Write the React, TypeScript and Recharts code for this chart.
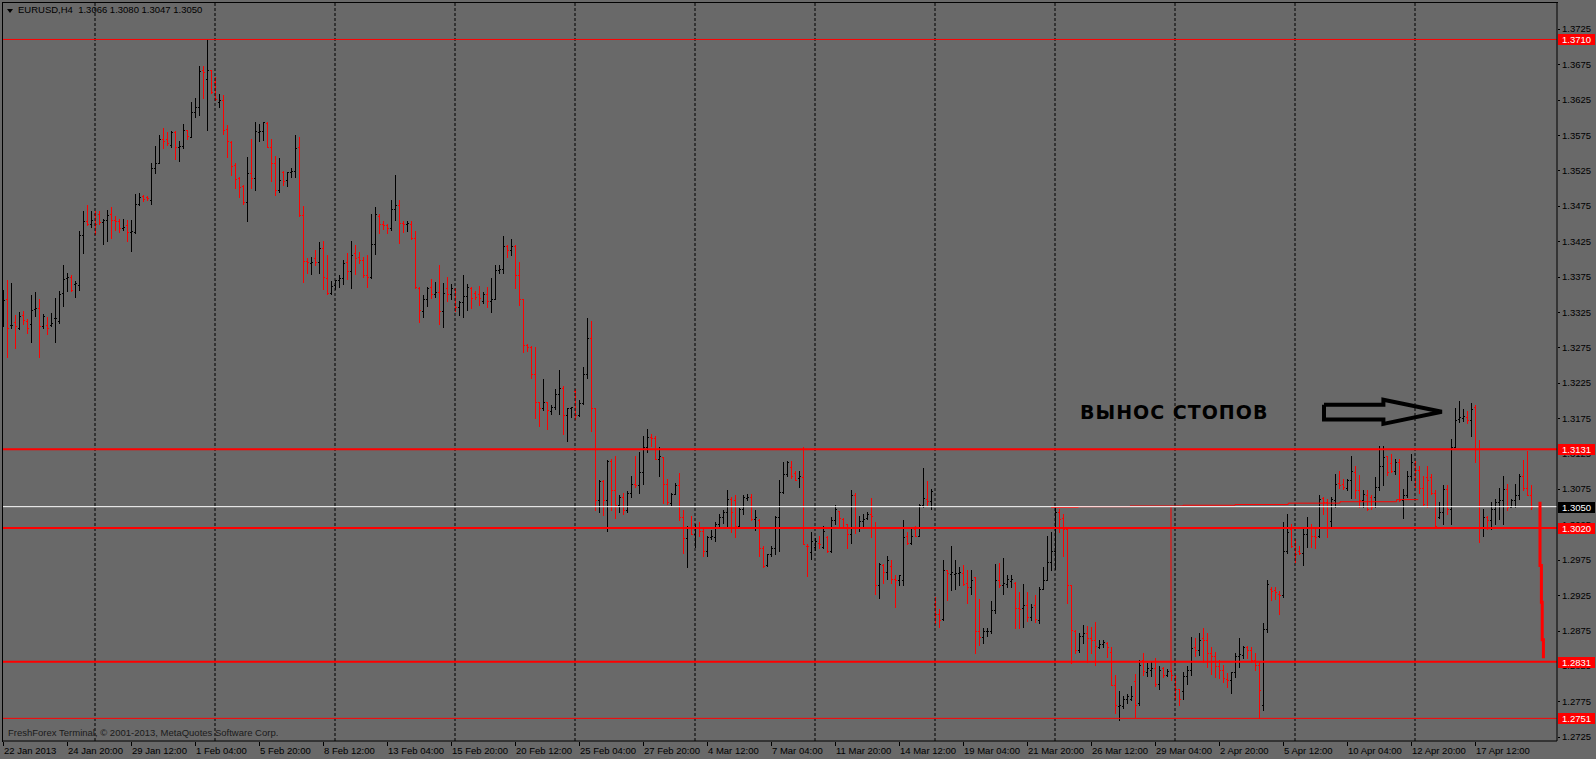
import React from "react";
import { Bar, ComposedChart, Line, ReferenceLine, XAxis, YAxis } from "recharts";

const CHART_W = 1596;
const CHART_H = 759;
const BG = "#696969";
const BULL = "#000000";
const BEAR = "#ff0000";
const FONT = "'Liberation Sans', Arial, sans-serif";

// EURUSD H4 bars, [open, high, low, close] in pips above 1.0000 (3066 = 1.3066)
const week0 = [
  [3326, 3356, 3305, 3342], [3343, 3370, 3262, 3302], [3306, 3366, 3302, 3307], [3311, 3321, 3274, 3305], [3302, 3325, 3301, 3319], [3321, 3327, 3308, 3314],
  [3312, 3315, 3295, 3302], [3308, 3349, 3283, 3328], [3329, 3353, 3320, 3331], [3331, 3343, 3261, 3305], [3305, 3322, 3303, 3319], [3306, 3318, 3294, 3303],
  [3307, 3323, 3305, 3309], [3316, 3345, 3283, 3317], [3312, 3355, 3310, 3350], [3352, 3391, 3334, 3371], [3373, 3380, 3354, 3374], [3374, 3377, 3355, 3356],
  [3364, 3369, 3346, 3366], [3363, 3439, 3356, 3434], [3434, 3467, 3408, 3453], [3453, 3476, 3448, 3449], [3449, 3468, 3445, 3455],
];
const week1 = [
  [3463, 3467, 3435, 3450], [3464, 3467, 3449, 3452], [3452, 3457, 3421, 3455], [3455, 3469, 3425, 3462], [3463, 3474, 3429, 3455], [3455, 3460, 3441, 3453],
  [3453, 3457, 3438, 3444], [3444, 3457, 3441, 3445], [3448, 3455, 3425, 3438], [3438, 3455, 3411, 3439], [3438, 3492, 3437, 3477], [3478, 3493, 3476, 3488],
  [3489, 3490, 3482, 3485], [3487, 3489, 3483, 3486], [3483, 3535, 3478, 3529], [3528, 3560, 3521, 3535], [3536, 3575, 3535, 3570], [3570, 3585, 3556, 3567],
  [3569, 3579, 3561, 3564], [3561, 3580, 3558, 3579], [3579, 3580, 3541, 3558], [3558, 3567, 3538, 3560], [3560, 3590, 3556, 3582], [3582, 3582, 3569, 3574],
  [3572, 3621, 3572, 3607], [3607, 3628, 3600, 3614], [3614, 3672, 3603, 3666], [3667, 3672, 3628, 3664], [3654, 3710, 3582, 3667], [3667, 3667, 3635, 3636],
];
const week2 = [
  [3650, 3657, 3624, 3626], [3621, 3633, 3614, 3624], [3624, 3631, 3576, 3582], [3583, 3589, 3544, 3567], [3565, 3567, 3519, 3531], [3532, 3535, 3500, 3513],
  [3514, 3516, 3488, 3502], [3503, 3504, 3478, 3481], [3480, 3544, 3454, 3521], [3521, 3569, 3500, 3514], [3514, 3594, 3498, 3580], [3579, 3591, 3567, 3580],
  [3580, 3593, 3568, 3593], [3592, 3593, 3558, 3558], [3558, 3570, 3510, 3535], [3536, 3546, 3490, 3497], [3497, 3542, 3495, 3511], [3523, 3524, 3505, 3510],
  [3511, 3523, 3503, 3523], [3523, 3529, 3516, 3524], [3524, 3575, 3516, 3557], [3558, 3572, 3460, 3462], [3462, 3475, 3367, 3397], [3397, 3401, 3380, 3396],
  [3394, 3403, 3378, 3396], [3401, 3413, 3391, 3396], [3396, 3424, 3380, 3415], [3415, 3425, 3357, 3374], [3373, 3405, 3351, 3352], [3352, 3369, 3351, 3362],
];
const week3 = [
  [3363, 3370, 3358, 3370], [3370, 3377, 3361, 3373], [3373, 3399, 3365, 3394], [3396, 3409, 3372, 3383], [3383, 3425, 3359, 3406], [3408, 3420, 3378, 3401],
  [3402, 3410, 3394, 3399], [3399, 3403, 3375, 3377], [3377, 3405, 3360, 3375], [3374, 3463, 3373, 3421], [3421, 3474, 3407, 3463], [3461, 3463, 3436, 3449],
  [3450, 3453, 3442, 3448], [3448, 3449, 3436, 3443], [3443, 3483, 3441, 3470], [3471, 3518, 3455, 3476], [3476, 3483, 3422, 3451], [3451, 3453, 3438, 3450],
  [3450, 3453, 3439, 3451], [3450, 3453, 3428, 3430], [3430, 3439, 3359, 3360], [3359, 3360, 3311, 3328], [3327, 3349, 3318, 3343], [3343, 3360, 3333, 3359],
  [3360, 3372, 3345, 3350], [3350, 3367, 3346, 3353], [3353, 3391, 3308, 3326], [3326, 3366, 3304, 3352], [3359, 3374, 3340, 3351], [3351, 3365, 3343, 3359],
];
const week4 = [
  [3358, 3359, 3327, 3332], [3332, 3340, 3321, 3339], [3339, 3377, 3318, 3347], [3347, 3364, 3328, 3360], [3359, 3361, 3330, 3345], [3352, 3354, 3343, 3346],
  [3350, 3362, 3335, 3345], [3341, 3353, 3338, 3350], [3350, 3361, 3332, 3340], [3340, 3373, 3325, 3344], [3344, 3392, 3343, 3385], [3385, 3392, 3380, 3386],
  [3386, 3432, 3380, 3418], [3418, 3419, 3402, 3412], [3412, 3428, 3405, 3418], [3418, 3419, 3359, 3377], [3377, 3396, 3335, 3343], [3343, 3343, 3268, 3279],
  [3279, 3280, 3270, 3275], [3275, 3277, 3232, 3238], [3238, 3276, 3175, 3198], [3198, 3198, 3164, 3190], [3190, 3230, 3186, 3198], [3198, 3198, 3160, 3186],
  [3185, 3194, 3181, 3191], [3191, 3216, 3188, 3209], [3209, 3243, 3181, 3217], [3217, 3221, 3153, 3180], [3180, 3190, 3143, 3189], [3189, 3191, 3176, 3191],
];
const week5 = [
  [3213, 3216, 3174, 3180], [3180, 3200, 3178, 3197], [3197, 3247, 3195, 3238], [3238, 3317, 3232, 3288], [3288, 3312, 3157, 3189], [3189, 3189, 3046, 3060],
  [3060, 3087, 3042, 3086], [3086, 3088, 3038, 3060], [3060, 3116, 3016, 3115], [3115, 3117, 3045, 3073], [3073, 3121, 3034, 3052], [3052, 3066, 3042, 3063],
  [3063, 3069, 3040, 3045], [3045, 3072, 3042, 3069], [3069, 3094, 3063, 3082], [3082, 3121, 3078, 3080], [3080, 3127, 3070, 3099], [3099, 3150, 3082, 3134],
  [3134, 3160, 3127, 3149], [3149, 3153, 3136, 3147], [3147, 3150, 3117, 3117], [3117, 3134, 3094, 3122], [3120, 3120, 3055, 3082], [3082, 3089, 3054, 3056],
  [3055, 3070, 3052, 3068], [3068, 3083, 3068, 3081], [3081, 3098, 3031, 3036], [3036, 3046, 2984, 3006], [3006, 3023, 2965, 3021], [3021, 3037, 3011, 3012],
];
const week6 = [
  [3012, 3026, 2993, 3020], [3020, 3028, 3009, 3016], [3016, 3019, 2981, 2988], [2988, 3009, 2981, 3007], [3007, 3017, 3005, 3008], [3007, 3028, 3002, 3026],
  [3026, 3040, 3023, 3035], [3035, 3045, 3027, 3042], [3042, 3073, 3023, 3061], [3061, 3063, 3014, 3042], [3059, 3066, 3007, 3023], [3023, 3048, 3022, 3047],
  [3047, 3066, 3040, 3063], [3062, 3068, 3059, 3063], [3063, 3068, 3031, 3033], [3033, 3045, 3017, 3035], [3031, 3033, 2981, 2991], [2991, 2995, 2965, 2966],
  [2967, 2983, 2966, 2983], [2983, 2995, 2981, 2992], [2992, 3037, 2983, 3036], [3036, 3088, 2988, 3071], [3071, 3113, 3069, 3096], [3096, 3115, 3094, 3113],
  [3106, 3114, 3090, 3094], [3098, 3100, 3087, 3088], [3090, 3100, 3078, 3094], [3092, 3134, 2997, 2997], [2995, 2997, 2952, 2994], [2986, 3014, 2976, 3002],
];
const week7 = [
  [2993, 3006, 2989, 3002], [2998, 3008, 2991, 2997], [2993, 3023, 2991, 3016], [3007, 3008, 2986, 2987], [2987, 3035, 2986, 3031], [3031, 3052, 3025, 3047],
  [3044, 3044, 3020, 3034], [3033, 3034, 3021, 3022], [3025, 3026, 2991, 3011], [3011, 3073, 2998, 3066], [3066, 3070, 3013, 3021], [3021, 3037, 3016, 3030],
  [3030, 3039, 3021, 3033], [3034, 3042, 3033, 3039], [3039, 3062, 3007, 3037], [3022, 3028, 2926, 2939], [2939, 2970, 2921, 2969], [2968, 2969, 2942, 2958],
  [2958, 2980, 2948, 2974], [2966, 2975, 2942, 2948], [2948, 2953, 2908, 2947], [2947, 2954, 2939, 2953], [2946, 3031, 2939, 3007], [3008, 3014, 2997, 2998],
  [2999, 3019, 2997, 3009], [3019, 3023, 3008, 3009], [3009, 3054, 3008, 3052], [3052, 3105, 3050, 3062], [3061, 3086, 3052, 3058], [3058, 3075, 3047, 3072],
];
const week8 = [
  [2913, 2922, 2886, 2899], [2898, 2906, 2880, 2890], [2891, 2974, 2890, 2961], [2960, 2961, 2918, 2956], [2955, 2994, 2932, 2958], [2955, 2974, 2934, 2957],
  [2957, 2965, 2939, 2958], [2956, 2968, 2940, 2941], [2942, 2960, 2914, 2937], [2937, 2960, 2927, 2947], [2950, 2951, 2843, 2875], [2875, 2920, 2854, 2866],
  [2866, 2878, 2858, 2875], [2874, 2878, 2867, 2875], [2875, 2917, 2872, 2904], [2904, 2969, 2900, 2946], [2946, 2970, 2937, 2939], [2939, 2978, 2927, 2942],
  [2941, 2954, 2937, 2948], [2945, 2953, 2937, 2948], [2942, 2944, 2878, 2907], [2907, 2929, 2878, 2906], [2907, 2941, 2880, 2911], [2911, 2929, 2889, 2894],
  [2894, 2912, 2890, 2908], [2911, 2925, 2887, 2892], [2890, 2937, 2886, 2934], [2934, 2965, 2934, 2946], [2947, 3009, 2946, 2972], [2972, 3014, 2960, 2987],
];
const week9 = [
  [2987, 3049, 2962, 3042], [3042, 3047, 3014, 3033], [3034, 3039, 2981, 3019], [3019, 3022, 2914, 2939], [2939, 2940, 2829, 2876], [2875, 2876, 2844, 2847],
  [2847, 2871, 2845, 2868], [2868, 2883, 2858, 2871], [2871, 2881, 2830, 2864], [2864, 2880, 2843, 2861], [2862, 2887, 2826, 2853], [2852, 2862, 2850, 2856],
  [2856, 2861, 2852, 2859], [2858, 2859, 2837, 2852], [2845, 2852, 2798, 2798], [2798, 2812, 2758, 2770], [2768, 2789, 2749, 2770], [2768, 2783, 2765, 2779],
  [2778, 2786, 2772, 2782], [2779, 2796, 2777, 2783], [2804, 2814, 2753, 2770], [2772, 2834, 2770, 2826], [2833, 2843, 2812, 2818], [2817, 2829, 2811, 2822],
  [2820, 2832, 2811, 2822], [2822, 2836, 2796, 2800], [2800, 2825, 2792, 2819], [2822, 2824, 2810, 2812], [2812, 2821, 2811, 2818], [2818, 2820, 2805, 2812],
];
const week10 = [
  [2808, 2812, 2779, 2792], [2792, 2793, 2770, 2779], [2789, 2816, 2779, 2811], [2811, 2825, 2800, 2820], [2820, 2866, 2812, 2850], [2852, 2865, 2839, 2848],
  [2847, 2871, 2840, 2862], [2864, 2878, 2830, 2861], [2862, 2871, 2823, 2844], [2844, 2852, 2814, 2839], [2839, 2845, 2810, 2825], [2825, 2833, 2808, 2820],
  [2820, 2826, 2803, 2808], [2806, 2815, 2795, 2805], [2805, 2817, 2787, 2816], [2816, 2843, 2810, 2839], [2839, 2864, 2823, 2842], [2840, 2853, 2836, 2852],
  [2852, 2853, 2836, 2848], [2848, 2852, 2831, 2834], [2834, 2843, 2819, 2826], [2826, 2831, 2751, 2791], [2770, 2886, 2763, 2877], [2877, 2947, 2873, 2941],
  [2934, 2937, 2918, 2931], [2933, 2937, 2920, 2930], [2927, 2931, 2899, 2925], [2925, 3028, 2923, 2987], [2987, 3040, 2984, 3014], [3019, 3025, 2993, 2994],
];
const week11 = [
  [2990, 3005, 2972, 2983], [2987, 2995, 2983, 2985], [2985, 3019, 2967, 3011], [3011, 3036, 2993, 3022], [3022, 3026, 2993, 3008], [3008, 3021, 2991, 3007],
  [3008, 3066, 3007, 3061], [3062, 3063, 3040, 3056], [3056, 3061, 3007, 3021], [3030, 3063, 3021, 3061], [3059, 3096, 3049, 3082], [3084, 3101, 3077, 3080],
  [3082, 3089, 3075, 3078], [3076, 3089, 3073, 3087], [3087, 3121, 3062, 3101], [3099, 3107, 3062, 3073], [3073, 3095, 3050, 3060], [3060, 3074, 3050, 3068],
  [3066, 3073, 3045, 3047], [3063, 3066, 3047, 3049], [3063, 3092, 3050, 3078], [3078, 3136, 3073, 3107], [3107, 3136, 3081, 3120], [3121, 3122, 3095, 3099],
  [3111, 3125, 3099, 3101], [3101, 3117, 3096, 3113], [3113, 3117, 3058, 3060], [3060, 3075, 3034, 3066], [3066, 3101, 3063, 3094], [3094, 3125, 3087, 3113],
];
const week12 = [
  [3111, 3115, 3078, 3102], [3102, 3108, 3069, 3077], [3077, 3094, 3052, 3054], [3092, 3107, 3050, 3087], [3092, 3096, 3068, 3070], [3070, 3073, 3021, 3023],
  [3035, 3056, 3034, 3042], [3042, 3080, 3026, 3075], [3075, 3081, 3040, 3047], [3047, 3145, 3026, 3134], [3135, 3190, 3134, 3172], [3174, 3199, 3169, 3176],
  [3175, 3188, 3171, 3178], [3176, 3185, 3168, 3172], [3172, 3197, 3150, 3188], [3191, 3194, 3113, 3131], [3131, 3144, 3000, 3021], [3021, 3047, 3009, 3035],
  [3035, 3037, 3019, 3031], [3031, 3056, 3019, 3047], [3047, 3061, 3026, 3056], [3056, 3077, 3033, 3060], [3060, 3094, 3026, 3075], [3075, 3082, 3045, 3049],
  [3049, 3061, 3049, 3059], [3059, 3082, 3049, 3066], [3066, 3096, 3061, 3094], [3094, 3116, 3073, 3077], [3077, 3128, 3066, 3066], [3066, 3080, 3047, 3050],
];
const weeks = [week0, week1, week2, week3, week4, week5, week6, week7, week8, week9, week10, week11, week12];

// time axis: a label every 16 bars
const timeLabels = [
  "22 Jan 2013", "24 Jan 20:00", "29 Jan 12:00", "1 Feb 04:00", "5 Feb 20:00", "8 Feb 12:00",
  "13 Feb 04:00", "15 Feb 20:00", "20 Feb 12:00", "25 Feb 04:00", "27 Feb 20:00", "4 Mar 12:00",
  "7 Mar 04:00", "11 Mar 20:00", "14 Mar 12:00", "19 Mar 04:00", "21 Mar 20:00", "26 Mar 12:00",
  "29 Mar 04:00", "2 Apr 20:00", "5 Apr 12:00", "10 Apr 04:00", "12 Apr 20:00", "17 Apr 12:00",
];
const timeTickBars = [0, 16, 32, 48, 64, 80, 96, 112, 128, 144, 160, 176, 192, 208, 224, 240, 256, 272, 288, 304, 320, 336, 352, 368];

const priceTicks = [
  1.2725, 1.2775, 1.2825, 1.2875, 1.2925, 1.2975, 1.3025, 1.3075, 1.3125, 1.3175, 1.3225,
  1.3275, 1.3325, 1.3375, 1.3425, 1.3475, 1.3525, 1.3575, 1.3625, 1.3675, 1.3725,
];

// Monday separators (bar index)
const weekGridBars = [23, 53, 83, 113, 143, 173, 203, 233, 263, 293, 323, 353];

// horizontal levels
const levelPrices = [1.371, 1.3131, 1.305, 1.302, 1.2831, 1.2751];
const levelLook = [
  { stroke: BEAR, width: 1, tag: BEAR },
  { stroke: BEAR, width: 2, tag: BEAR },
  { stroke: "#ffffff", width: 1, tag: "#000000" },
  { stroke: BEAR, width: 2, tag: BEAR },
  { stroke: BEAR, width: 2, tag: BEAR },
  { stroke: BEAR, width: 1, tag: BEAR },
];

// red stepped stop line, pips
const stopLineBars = [262, 268.8, 281.75, 295, 308, 321.3, 334.25, 348.4, 353.8];
const stopLineValues = [3049, 3050, 3051, 3052, 3053, 3055, 3057, 3060, 3060];
const stopJumpBars = [292, 292];
const stopJumpValues = [3050, 2818];

// thick red drop drawn at the right edge
const dropBars = [384.25, 384.25, 384.6, 384.6, 384.8, 384.8, 385.1, 385.1];
const dropValues = [3057, 2967, 2967, 2915, 2915, 2862, 2862, 2836];

// outlined arrow pointing at the spike
const arrowBars = [330.25, 345.1, 345.1, 359.7, 345.1, 345.1, 330.25, 330.25];
const arrowValues = [3194, 3194, 3201, 3184, 3167, 3173, 3173, 3194];

const px = (pips: number) => 1 + pips / 10000;

const bars = weeks.flat().map((b, i) => ({
  i,
  open: px(b[0]),
  high: px(b[1]),
  low: px(b[2]),
  close: px(b[3]),
  range: [px(b[2]), px(b[1])],
}));

const toLine = (xs: number[], vs: number[]) => xs.map((i, k) => ({ i, v: px(vs[k]) }));
const stopLine = toLine(stopLineBars, stopLineValues);
const stopJump = toLine(stopJumpBars, stopJumpValues);
const dropLine = toLine(dropBars, dropValues);
const arrowLine = toLine(arrowBars, arrowValues);

// price ticks first, level tags last so the tags paint over the tick labels
const axisTicks = [...priceTicks, ...levelPrices];

function OhlcShape(props: any) {
  const { x, y, width, height, payload } = props;
  if (x == null || y == null || !payload) return null;
  const cx = Math.round(x + width / 2);
  const top = Math.min(y, y + height);
  const span = Math.abs(height);
  const { open, high, low, close } = payload;
  const py = (p: number) => (high === low ? top : top + ((high - p) / (high - low)) * span);
  const color = close >= open ? BULL : BEAR;
  const t = Math.round(top);
  const b = Math.round(top + span);
  return (
    <g fill={color} shapeRendering="crispEdges">
      <rect x={cx} y={t} width={1} height={Math.max(1, b - t + 1)} />
      <rect x={cx - 1} y={Math.round(py(open))} width={1} height={1} />
      <rect x={cx + 1} y={Math.round(py(close))} width={1} height={1} />
    </g>
  );
}

function TimeTick(props: any) {
  const { x, y, payload } = props;
  const k = timeTickBars.indexOf(payload.value);
  return (
    <g>
      <rect x={Math.round(x)} y={y + 1} width={1} height={4} fill="#000" />
      <text x={x + 1} y={y + 13} fontSize={9.5} fontFamily={FONT} fill="#000">
        {k >= 0 ? timeLabels[k] : ""}
      </text>
    </g>
  );
}

function PriceTick(props: any) {
  const { x, y, payload, index } = props;
  const lvl = index >= priceTicks.length ? levelPrices.indexOf(payload.value) : -1;
  if (lvl >= 0) {
    const yy = Math.round(y);
    return (
      <g>
        <rect x={x + 1} y={yy - 5} width={37} height={11} fill={levelLook[lvl].tag} />
        <text x={x + 5} y={yy + 4} fontSize={9.5} fontFamily={FONT} fill="#ffffff">
          {Number(payload.value).toFixed(4)}
        </text>
      </g>
    );
  }
  return (
    <g>
      <rect x={x + 1} y={Math.round(y)} width={2} height={1} fill="#000" />
      <text x={x + 5} y={y + 3.5} fontSize={9.5} fontFamily={FONT} fill="#000">
        {Number(payload.value).toFixed(4)}
      </text>
    </g>
  );
}

export default function App() {
  return (
    <div
      style={{
        position: "fixed",
        left: 0,
        top: 0,
        width: CHART_W,
        height: CHART_H,
        background: BG,
        overflow: "hidden",
      }}
    >
      <ComposedChart
        width={CHART_W}
        height={CHART_H}
        data={bars}
        margin={{ top: 3, right: 0, bottom: 0, left: 3 }}
      >
        <XAxis
          dataKey="i"
          type="number"
          domain={[0, 388.5]}
          allowDataOverflow
          ticks={timeTickBars}
          interval={0}
          height={18}
          tickSize={0}
          tickMargin={0}
          tickLine={false}
          axisLine={{ stroke: "#000" }}
          tick={TimeTick}
        />
        <YAxis
          orientation="right"
          type="number"
          domain={[1.2719, 1.37615]}
          allowDataOverflow
          ticks={axisTicks}
          interval={0}
          width={39}
          tickSize={0}
          tickMargin={0}
          tickLine={false}
          axisLine={{ stroke: "#000" }}
          tick={PriceTick}
        />
        {weekGridBars.map((i) => (
          <ReferenceLine key={`g${i}`} x={i} stroke="#000" strokeDasharray="3 2" />
        ))}
        <Bar dataKey="range" shape={OhlcShape} isAnimationActive={false} barSize={3} />
        <Line
          data={stopLine}
          dataKey="v"
          type="stepAfter"
          stroke={BEAR}
          strokeWidth={1}
          dot={false}
          isAnimationActive={false}
        />
        <Line
          data={stopJump}
          dataKey="v"
          type="linear"
          stroke={BEAR}
          strokeWidth={1}
          dot={false}
          isAnimationActive={false}
        />
        {levelPrices.map((p, k) => (
          <ReferenceLine
            key={`l${p}`}
            y={p}
            stroke={levelLook[k].stroke}
            strokeWidth={levelLook[k].width}
          />
        ))}
        <Line
          data={dropLine}
          dataKey="v"
          type="linear"
          stroke={BEAR}
          strokeWidth={3}
          dot={false}
          isAnimationActive={false}
        />
        <Line
          data={arrowLine}
          dataKey="v"
          type="linear"
          stroke="#000"
          strokeWidth={4}
          strokeLinejoin="miter"
          dot={false}
          isAnimationActive={false}
        />
      </ComposedChart>

      <div
        style={{
          position: "absolute",
          left: 2,
          top: 2,
          width: 1555,
          height: 739,
          borderTop: "1px solid #000",
          borderLeft: "1px solid #000",
          pointerEvents: "none",
        }}
      />
      <div
        style={{
          position: "absolute",
          left: 7,
          top: 9,
          width: 0,
          height: 0,
          borderLeft: "3px solid transparent",
          borderRight: "3px solid transparent",
          borderTop: "4px solid #000",
        }}
      />
      <div
        style={{
          position: "absolute",
          left: 18,
          top: 5,
          fontFamily: FONT,
          fontSize: 9.5,
          lineHeight: "10px",
          color: "#000",
          whiteSpace: "pre",
        }}
      >
        {"EURUSD,H4  1.3066 1.3080 1.3047 1.3050"}
      </div>
      <div
        style={{
          position: "absolute",
          left: 8,
          top: 728,
          fontFamily: FONT,
          fontSize: 9.5,
          lineHeight: "10px",
          color: "#1a1a1a",
          whiteSpace: "pre",
        }}
      >
        FreshForex Terminal, © 2001-2013, MetaQuotes Software Corp.
      </div>
      <div
        style={{
          position: "absolute",
          left: 1080,
          top: 403,
          fontFamily: "'DejaVu Sans', sans-serif",
          fontWeight: 700,
          fontSize: 19,
          letterSpacing: 1,
          lineHeight: "19px",
          color: "#000",
          whiteSpace: "pre",
        }}
      >
        ВЫНОС СТОПОВ
      </div>
    </div>
  );
}
